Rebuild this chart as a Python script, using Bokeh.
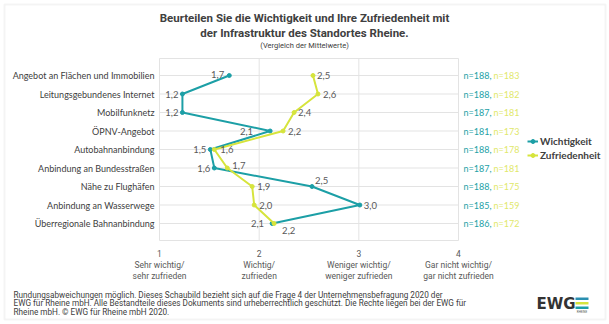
from bokeh.plotting import figure
from bokeh.models import (ColumnDataSource, Range1d, Label, Legend, LegendItem, BoxAnnotation)
from bokeh.core.properties import value
from bokeh.embed import file_html
from bokeh.resources import INLINE

# ---------------- data ----------------
categories = [
    "Angebot an Flächen und Immobilien",
    "Leitungsgebundenes Internet",
    "Mobilfunknetz",
    "ÖPNV-Angebot",
    "Autobahnanbindung",
    "Anbindung an Bundesstraßen",
    "Nähe zu Flughäfen",
    "Anbindung an Wasserwege",
    "Überregionale Bahnanbindung",
]
wichtigkeit = [1.70, 1.23, 1.23, 2.11, 1.51, 1.55, 2.53, 3.01, 2.13]
zufriedenheit = [2.54, 2.59, 2.35, 2.24, 1.55, 1.68, 1.93, 1.95, 2.15]
wicht_labels = ["1,7", "1,2", "1,2", "2,1", "1,5", "1,6", "2,5", "3,0", "2,1"]
zufr_labels = ["2,5", "2,6", "2,4", "2,2", "1,6", "1,7", "1,9", "2,0", "2,2"]
n_wicht = [188, 188, 187, 181, 188, 187, 188, 185, 186]
n_zufr = [183, 182, 181, 173, 178, 181, 175, 159, 172]
scale_ticks = [1, 2, 3, 4]
scale_labels = [
    "1\nSehr wichtig/\nsehr zufrieden",
    "2\nWichtig/\nzufrieden",
    "3\nWeniger wichtig/\nweniger zufrieden",
    "4\nGar nicht wichtig/\ngar nicht zufrieden",
]
title_lines = ["Beurteilen Sie die Wichtigkeit und Ihre Zufriedenheit mit",
               "der Infrastruktur des Standortes Rheine."]
subtitle = "(Vergleich der Mittelwerte)"
footnote = [
    "Rundungsabweichungen möglich. Dieses Schaubild bezieht sich auf die Frage 4 der Unternehmensbefragung 2020 der",
    "EWG für Rheine mbH. Alle Bestandteile dieses Dokuments sind urheberrechtlich geschützt. Die Rechte liegen bei der EWG für",
    "Rheine mbH. © EWG für Rheine mbH 2020.",
]
logo_text = "EWG"

# ---------------- styles / layout ----------------
TEAL = "#1c9fa6"
YELLOW = "#d6e43c"
YELLOW_TXT = "#dfe86a"
GRID = "#e3e3e3"
LABEL_FONT = "Lato"
TICK_FONT = "Roboto"

W, H = 609, 324
X1_PX, X4_PX = 159, 458     # pixel positions of scale values 1 and 4
ROW0_PX, ROW_PX = 75, 18.5  # pixel position of first row and row spacing
PAD = 0.92                  # plot box padding in rows

rows = list(range(len(categories)))
xmin, xmax = scale_ticks[0], scale_ticks[-1]
ppu = (X4_PX - X1_PX) / (xmax - xmin)

# value label placement (pixels)
w_xoff = [-5, -4, -4, -17, -4, -4, 3, 4, -8]
w_yoff = [-1, 0, 0, 0, 0, 0, -6, 0, 0]
w_align = ["right", "right", "right", "right", "right", "right", "left", "left", "right"]
z_xoff = [4, 5, 4, 5, 6, 5, 5, 5, 8]
z_yoff = [0, 0, 0, 0, 0, -3, 0, 0, 7]

p = figure(width=W, height=H, output_backend="svg", toolbar_location=None,
           x_range=Range1d(xmin - X1_PX / ppu, xmin + (W - X1_PX) / ppu),
           y_range=Range1d((H - ROW0_PX) / ROW_PX, -ROW0_PX / ROW_PX),
           min_border=0)
p.axis.visible = False
p.grid.visible = False
p.outline_line_color = None
p.background_fill_color = "white"
p.border_fill_color = "white"

top_edge = rows[0] - PAD
bot_edge = rows[-1] + PAD

# plot box & grid
p.segment(x0=scale_ticks, x1=scale_ticks, y0=[top_edge] * len(scale_ticks),
          y1=[bot_edge] * len(scale_ticks), line_color=GRID, line_width=1)
hlines = rows + [top_edge, bot_edge]
p.segment(x0=[xmin] * len(hlines), x1=[xmax] * len(hlines), y0=hlines, y1=hlines,
          line_color=GRID, line_width=1)

# category labels
p.text(x=[xmin] * len(rows), y=rows, text=categories, x_offset=-5, text_align="right",
       text_baseline="middle", text_font=value(LABEL_FONT), text_font_size="9px",
       text_color="#404040")

# scale labels below the box
for k in range(3):
    p.text(x=scale_ticks, y=[bot_edge] * len(scale_ticks),
           text=[s.split("\n")[k] for s in scale_labels], y_offset=13 + 11 * k,
           text_align="center", text_baseline="middle", text_font=value(TICK_FONT),
           text_font_size="8.5px", text_color="#595959")

src = ColumnDataSource(dict(
    y=rows, w=wichtigkeit, z=zufriedenheit, wl=wicht_labels, zl=zufr_labels,
    wxo=w_xoff, wyo=w_yoff, wal=w_align, zxo=z_xoff, zyo=z_yoff,
    nx=[xmax] * len(rows),
    nw=[f"n={n}," for n in n_wicht], nz=[f"n={n}" for n in n_zufr],
))

lw = p.line("w", "y", source=src, line_color=TEAL, line_width=2)
sw = p.scatter("w", "y", source=src, size=4, color=TEAL)
lz = p.line("z", "y", source=src, line_color=YELLOW, line_width=2)
sz = p.scatter("z", "y", source=src, size=4, color=YELLOW)

p.text("w", "y", text="wl", source=src, x_offset="wxo", y_offset="wyo", text_align="wal",
       text_baseline="middle", text_font=value(LABEL_FONT), text_font_size="9.5px",
       text_color="#595959")
p.text("z", "y", text="zl", source=src, x_offset="zxo", y_offset="zyo", text_align="left",
       text_baseline="middle", text_font=value(LABEL_FONT), text_font_size="9.5px",
       text_color="#595959")

# n labels to the right of the box
p.text("nx", "y", text="nw", source=src, x_offset=5, text_baseline="middle",
       text_font=value(LABEL_FONT), text_font_size="9px", text_color=TEAL)
p.text("nx", "y", text="nz", source=src, x_offset=35, text_baseline="middle",
       text_font=value(LABEL_FONT), text_font_size="9px", text_color=YELLOW_TXT)

legend = Legend(items=[LegendItem(label="Wichtigkeit", renderers=[lw, sw]),
                       LegendItem(label="Zufriedenheit", renderers=[lz, sz])],
                location=(527, H - 161), orientation="vertical",
                glyph_width=11, glyph_height=10, label_height=10, spacing=2,
                label_standoff=2, padding=0, margin=0,
                border_line_color=None, background_fill_alpha=0,
                label_text_font=LABEL_FONT, label_text_font_size="10px",
                label_text_font_style="bold", label_text_color="#404040")
p.add_layout(legend, "center")


def add_label(px, py, text, size, bold=False, align="left", font=TICK_FONT, color="#404040"):
    p.add_layout(Label(x=px, y=H - py, x_units="screen", y_units="screen", text=text,
                       text_align=align, text_baseline="middle", text_font=font,
                       text_font_size=size, text_font_style="bold" if bold else "normal",
                       text_color=color))


add_label(304, 17, title_lines[0], "11.5px", bold=True, align="center")
add_label(304, 32, title_lines[1], "11.5px", bold=True, align="center")
add_label(304, 45, subtitle, "7.5px", align="center")
for i, line in enumerate(footnote):
    add_label(13, 294 + 8.5 * i, line, "8.2px")

# logo
add_label(536, 303, logo_text, "15px", bold=True, font="DejaVu Sans", color="#333333")
for yy, col in [(297, "#2a8fb0"), (301.5, YELLOW), (306, TEAL)]:
    p.add_layout(BoxAnnotation(left=575, right=588, bottom=H - yy - 2.5, top=H - yy,
                               left_units="screen", right_units="screen",
                               bottom_units="screen", top_units="screen",
                               fill_color=col, fill_alpha=1, line_color=None))
add_label(581.5, 311, "RHEINE", "3px", align="center", color="#555555")

# outer frame
p.add_layout(BoxAnnotation(left=4, right=605, bottom=H - 319, top=H - 4,
                           left_units="screen", right_units="screen",
                           bottom_units="screen", top_units="screen",
                           fill_alpha=0, line_color="#d9d9d9", line_width=2))

open("out.html", "w").write(file_html(p, INLINE))
